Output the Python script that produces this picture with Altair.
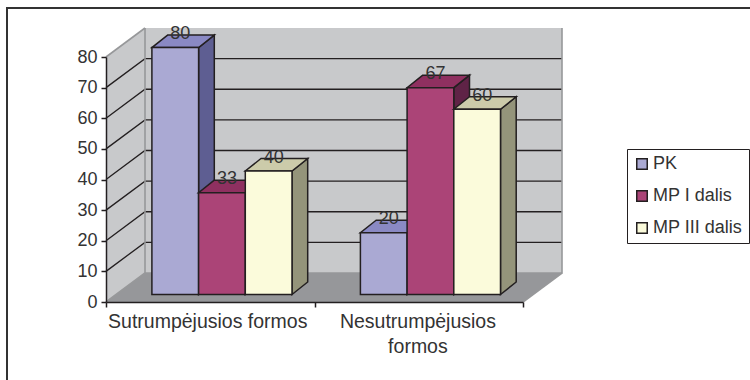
import altair as alt
import pandas as pd

categories = ["Sutrumpėjusios formos", "Nesutrumpėjusios formos"]
category_lines = [["Sutrumpėjusios formos"], ["Nesutrumpėjusios", "formos"]]
series = ["PK", "MP I dalis", "MP III dalis"]
values = {"PK": [80, 20], "MP I dalis": [33, 67], "MP III dalis": [40, 60]}
front_colors = ["#aaa9d3", "#ab4477", "#fbfbdb"]
top_colors = ["#8a89c4", "#8f3060", "#cccbaa"]
side_colors = ["#5e5e92", "#5f2346", "#94947a"]
ticks = list(range(0, 90, 10))

INK = "#231f20"
TEXT = "#333333"
WALL = "#c8c9cb"
FLOOR = "#96979a"
EDGE = "#97989a"
FONT = "Liberation Sans"
FONT_SIZE = 18
CATEGORY_FONT_SIZE = 19.5

# Plot area: one x unit is one category, y is in value units.
PLOT_W, PLOT_H = 417, 245
Y_TOP = 80
XU = PLOT_W / 2
YU = PLOT_H / Y_TOP

# Depth of the box and of each bar, expressed in scale units.
BOX_DX, BOX_DY = 39 / XU, 29 / YU
BAR_DX, BAR_DY = 15.7 / XU, 12.5 / YU
BAR_W = 46.7 / XU
BAR_START = 45.9 / XU
BAR_BASE = 7.5 / YU
BAR_STRETCH = 1.008

x_scale = alt.Scale(domain=[0, 2], range=[0, PLOT_W], nice=False, zero=False)
y_scale = alt.Scale(domain=[0, Y_TOP], range=[PLOT_H, 0], nice=False, zero=False)
x_axis = alt.Axis(
    values=[0, 1, 2], title=None, grid=False, labels=False, domainColor=INK,
    domainWidth=1.5, tickColor=INK, tickWidth=1.5, tickSize=5, zindex=1,
)
y_axis = alt.Axis(
    values=ticks, title=None, grid=False, domainColor=INK, domainWidth=1.5,
    tickColor=INK, tickWidth=1.5, tickSize=5, labelFont=FONT,
    labelFontSize=FONT_SIZE, labelColor=TEXT, labelPadding=4, zindex=1,
)
X = lambda f: alt.X(f, type="quantitative", scale=x_scale, axis=x_axis)
Y = lambda f: alt.Y(f, type="quantitative", scale=y_scale, axis=y_axis)


def band(rows, fill, stroke=None, width=1.5):
    """Filled strip running left to right between y and y2."""
    kw = {"stroke": stroke, "strokeWidth": width} if stroke else {}
    return alt.Chart(pd.DataFrame(rows)).mark_area(
        fill=fill, orient="vertical", clip=False, opacity=1, **kw
    ).encode(x=X("x"), y=Y("y"), y2=alt.Y2("y2"), detail="id:N")


def slab(rows, fill, stroke=None, width=1.5):
    """Filled strip running bottom to top between x and x2."""
    kw = {"stroke": stroke, "strokeWidth": width} if stroke else {}
    return alt.Chart(pd.DataFrame(rows)).mark_area(
        fill=fill, orient="horizontal", clip=False, opacity=1, **kw
    ).encode(y=Y("y"), x=X("x"), x2=alt.X2("x2"), detail="id:N")


def wire(rows, color, width):
    return alt.Chart(pd.DataFrame(rows)).mark_line(
        color=color, strokeWidth=width, clip=False
    ).encode(x=X("x"), y=Y("y"), detail="id:N")


layers = []

# Chart frame, which runs off the right and bottom of the page
layers.append(wire([
    {"id": "frame", "x": -99 / XU, "y": -85 / YU},
    {"id": "frame", "x": -99 / XU, "y": Y_TOP + 49 / YU},
    {"id": "frame", "x": 650 / XU, "y": Y_TOP + 49 / YU},
], "#333333", 2))

# Room: side wall, back wall, floor
layers.append(band([
    {"id": "w", "x": 0, "y": 0, "y2": Y_TOP},
    {"id": "w", "x": BOX_DX, "y": BOX_DY, "y2": Y_TOP + BOX_DY},
], WALL))
layers.append(band([
    {"id": "b", "x": BOX_DX, "y": BOX_DY, "y2": Y_TOP + BOX_DY},
    {"id": "b", "x": 2 + BOX_DX, "y": BOX_DY, "y2": Y_TOP + BOX_DY},
], WALL))
layers.append(slab([
    {"id": "f", "y": 0, "x": 0, "x2": 2},
    {"id": "f", "y": BOX_DY, "x": BOX_DX, "x2": 2 + BOX_DX},
], FLOOR))

# Gridlines across the side wall and the back wall
grid = []
for t in ticks[1:-1]:
    grid += [
        {"id": t, "x": 0, "y": t},
        {"id": t, "x": BOX_DX, "y": t + BOX_DY},
        {"id": t, "x": 2 + BOX_DX, "y": t + BOX_DY},
    ]
layers.append(wire(grid, INK, 1.3))

# Grey outline of the room
layers.append(wire([
    {"id": "a", "x": 0, "y": 0},
    {"id": "a", "x": BOX_DX, "y": BOX_DY},
    {"id": "a", "x": 2 + BOX_DX, "y": BOX_DY},
    {"id": "a", "x": 2 + BOX_DX, "y": Y_TOP + BOX_DY},
    {"id": "a", "x": BOX_DX, "y": Y_TOP + BOX_DY},
    {"id": "a", "x": BOX_DX, "y": BOX_DY},
    {"id": "c", "x": BOX_DX, "y": Y_TOP + BOX_DY},
    {"id": "c", "x": 0, "y": Y_TOP},
    {"id": "d", "x": 2, "y": 0},
    {"id": "d", "x": 2 + BOX_DX, "y": BOX_DY},
], EDGE, 1.6))

# Bars, painted left to right so nearer faces cover the ones behind them
labels = []
for s_i, name in enumerate(series):
    sides, tops, fronts = [], [], []
    for c_i, v in enumerate(values[name]):
        x0 = c_i + BAR_START + s_i * BAR_W
        x1 = x0 + BAR_W
        top = BAR_BASE + v * BAR_STRETCH
        key = f"{name}-{c_i}"
        sides += [
            {"id": key, "x": x1, "y": BAR_BASE, "y2": top},
            {"id": key, "x": x1 + BAR_DX, "y": BAR_BASE + BAR_DY, "y2": top + BAR_DY},
        ]
        tops += [
            {"id": key, "y": top, "x": x0, "x2": x1},
            {"id": key, "y": top + BAR_DY, "x": x0 + BAR_DX, "x2": x1 + BAR_DX},
        ]
        fronts.append({"x": x0, "x2": x1, "y": BAR_BASE, "y2": top, "series": name})
        labels.append({"x": (x0 + x1) / 2 + 5 / XU, "y": top + 13.5 / YU, "text": str(v)})
    layers.append(band(sides, side_colors[s_i], INK))
    layers.append(slab(tops, top_colors[s_i], INK))
    layers.append(
        alt.Chart(pd.DataFrame(fronts)).mark_rect(
            stroke=INK, strokeWidth=1.5, clip=False, opacity=1
        ).encode(
            x=X("x"), x2=alt.X2("x2"), y=Y("y"), y2=alt.Y2("y2"),
            color=alt.Color(
                "series:N",
                scale=alt.Scale(domain=series, range=front_colors),
                legend=alt.Legend(
                    title=None, orient="none", legendX=521, legendY=92,
                    symbolType="square", symbolSize=110, symbolStrokeColor=INK,
                    symbolStrokeWidth=1.5, symbolOpacity=1,
                    labelFont=FONT, labelFontSize=FONT_SIZE, labelColor=TEXT,
                    labelOffset=2, rowPadding=14, padding=6,
                    strokeColor=INK, fillColor="#ffffff",
                ),
            ),
        )
    )

# Value labels above each bar
layers.append(
    alt.Chart(pd.DataFrame(labels)).mark_text(
        font=FONT, fontSize=FONT_SIZE, color=TEXT, baseline="middle", clip=False
    ).encode(x=X("x"), y=Y("y"), text="text:N")
)

# Category names under the axis
layers.append(
    alt.Chart(pd.DataFrame({"x": [0.488, 1.496], "label": category_lines})).mark_text(
        font=FONT, fontSize=CATEGORY_FONT_SIZE, color=TEXT, baseline="top", lineHeight=25,
        clip=False, dy=11,
    ).encode(x=X("x"), y=alt.value(PLOT_H), text="label")
)

chart = alt.layer(*layers).resolve_scale(color="shared").properties(
    width=PLOT_W, height=PLOT_H,
    padding={"left": 106, "top": 57, "right": 227, "bottom": 78},
    autosize=alt.AutoSizeParams(type="none"),
    background="#ffffff",
).configure_view(stroke=None)

chart.save("out.html", embed_options={"renderer": "svg", "actions": False})
